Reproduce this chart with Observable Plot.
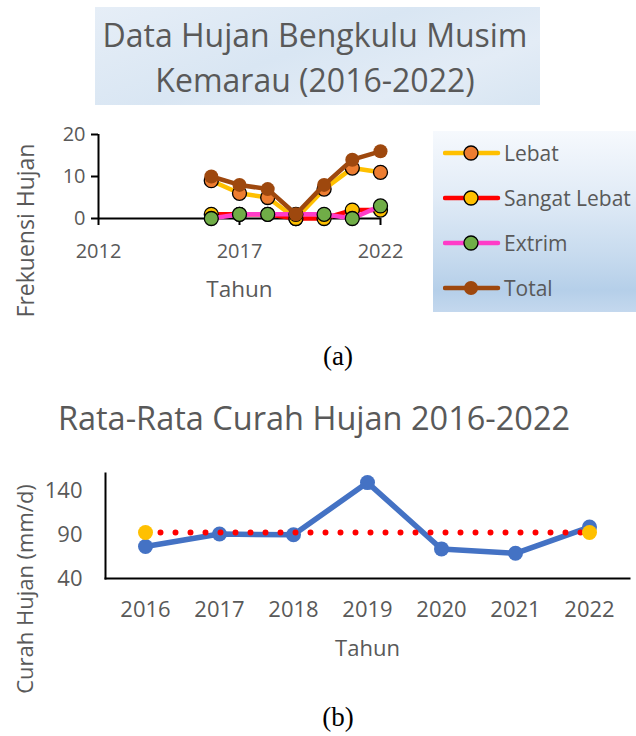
<!DOCTYPE html>
<html><head><meta charset="utf-8">
<script src="https://cdn.jsdelivr.net/npm/d3@7"></script>
<script src="https://cdn.jsdelivr.net/npm/@observablehq/plot@0.6"></script>
<style>
body{margin:0;background:#fff;}
#root{position:relative;width:636px;height:736px;overflow:hidden;font-family:"Open Sans",sans-serif;color:#595959;}
.abs{position:absolute;}
#titleA{left:95px;top:7px;width:445px;height:98px;
  background:linear-gradient(160deg,#e6eef7 0%,#d9e6f3 45%,#e3ecf6 75%,#d7e5f2 100%);}
#titleAText{left:95px;top:12px;width:440px;text-align:center;font-size:32px;line-height:45px;white-space:nowrap;}
#legendA{left:433px;top:131px;width:203px;height:181px;
  background:linear-gradient(180deg,#f6f9fd 0%,#e2ecf7 35%,#c6daee 70%,#b5cfe9 88%,#c4d8ee 100%);}
.item{position:absolute;left:443px;height:30px;display:flex;align-items:center;font-size:21px;white-space:nowrap;}
.item svg{margin-right:3px;}
#chartA{left:0;top:110px;}
#capA,#capB{left:290px;width:96px;text-align:center;font-family:"Liberation Serif",serif;font-size:27px;line-height:34px;color:#000;}
#capA{top:339px;}
#capB{top:700px;}
#titleB{left:0;top:398px;width:628px;text-align:center;font-size:32.5px;line-height:40px;white-space:nowrap;}
#chartB{left:0;top:440px;}
</style></head><body>
<div id="root">
  <div id="titleA" class="abs"></div>
  <div id="titleAText" class="abs">Data Hujan Bengkulu Musim<br>Kemarau (2016-2022)</div>
  <div id="chartA" class="abs"></div>
  <div id="legendA" class="abs"></div>
  <div id="legendItems"></div>
  <div id="capA" class="abs">(a)</div>
  <div id="titleB" class="abs">Rata-Rata Curah Hujan 2016-2022</div>
  <div id="chartB" class="abs"></div>
  <div id="capB" class="abs">(b)</div>
</div>
<script>
// ---------- data ----------
const years = [2016, 2017, 2018, 2019, 2020, 2021, 2022];
const seriesNames = ["Lebat", "Sangat Lebat", "Extrim", "Total"];
const lebat = [9, 6, 5, 0, 7, 12, 11];
const sangatLebat = [1, 1, 1, 0, 0, 2, 2];
const extrim = [0, 1, 1, 1, 1, 0, 3];
const total = [10, 8, 7, 1, 8, 14, 16];
const ticksXA = [2012, 2017, 2022];
const ticksYA = [0, 10, 20];

const curahHujan = [76.5, 90.8, 90, 149.6, 73.8, 68.8, 98.8];
const rataRata = [92.6, 92.6, 92.6, 92.6, 92.6, 92.6, 92.6];
const rataRataMarkerYears = [2016, 2022];
const ticksYB = [40, 90, 140];

// ---------- styles ----------
const lineColor = {"Lebat": "#FFC000", "Sangat Lebat": "#FF0000", "Extrim": "#FF3CC8", "Total": "#9E480E"};
const dotFill = {"Lebat": "#ED7D31", "Sangat Lebat": "#FFC000", "Extrim": "#70AD47", "Total": "#9E480E"};
const dotStroke = {"Lebat": "#000", "Sangat Lebat": "#000", "Extrim": "#000", "Total": "none"};
const textColor = "#595959";

const valuesA = [lebat, sangatLebat, extrim, total];
const rowsA = seriesNames.map((s, i) => years.map((y, j) => ({series: s, year: y, value: valuesA[i][j]})));

// ---------- chart (a) ----------
const chartA = Plot.plot({
  width: 430, height: 230,
  marginLeft: 98, marginRight: 50, marginTop: 24, marginBottom: 122,
  style: {fontFamily: "Open Sans, sans-serif", color: textColor, background: "transparent", overflow: "visible"},
  x: {domain: [2012, 2022]},
  y: {domain: [0, 20]},
  marks: [
    Plot.axisX({ticks: ticksXA, tickFormat: d => String(d), tickSize: 7, tickPadding: 18, fontSize: 20, label: null, stroke: "#000", strokeWidth: 2, fill: textColor}),
    Plot.axisY({ticks: ticksYA, tickSize: 7, tickPadding: 6, fontSize: 20, label: null, stroke: "#000", strokeWidth: 2, fill: textColor}),
    Plot.ruleY([0], {stroke: "#000", strokeWidth: 2}),
    Plot.ruleX([2012], {stroke: "#000", strokeWidth: 2}),
    ...rowsA.flatMap((rows, i) => {
      const s = seriesNames[i];
      return [
        Plot.line(rows, {x: "year", y: "value", stroke: lineColor[s], strokeWidth: 4.5}),
        Plot.dot(rows, {x: "year", y: "value", r: 7, fill: dotFill[s], stroke: dotStroke[s], strokeWidth: 1.3})
      ];
    }),
    Plot.text(["Tahun"], {text: d => d, frameAnchor: "bottom", textAnchor: "middle", lineAnchor: "middle", dy: 71, fontSize: 22.5, fill: textColor}),
    Plot.text(["Frekuensi Hujan"], {text: d => d, frameAnchor: "left", textAnchor: "middle", lineAnchor: "middle", rotate: -90, dx: -71.5, dy: 54, fontSize: 23, fill: textColor})
  ]
});
document.getElementById("chartA").appendChild(chartA);

// legend (a)
const legendTop = [153, 198, 243, 288];
const legendHost = document.getElementById("legendItems");
seriesNames.forEach((s, i) => {
  const div = document.createElement("div");
  div.className = "item";
  div.style.top = (legendTop[i] - 15) + "px";
  div.innerHTML = `<svg width="58" height="30"><line x1="2" x2="55" y1="15" y2="15" stroke="${lineColor[s]}" stroke-width="4.5" stroke-linecap="round"/><circle cx="28" cy="15" r="7" fill="${dotFill[s]}" stroke="${dotStroke[s]}" stroke-width="1.3"/></svg><span>${s}</span>`;
  legendHost.appendChild(div);
});

// ---------- chart (b) ----------
const rowsB = years.map((y, j) => ({year: y, value: curahHujan[j], avg: rataRata[j]}));
const rowsBMarkers = rowsB.filter(d => rataRataMarkerYears.includes(d.year));
const chartB = Plot.plot({
  width: 636, height: 257,
  marginLeft: 105, marginRight: 7, marginTop: 33, marginBottom: 119,
  style: {fontFamily: "Open Sans, sans-serif", color: textColor, background: "transparent", overflow: "visible"},
  x: {type: "point", domain: years, padding: 0.5},
  y: {domain: [40, 160]},
  marks: [
    Plot.axisX({tickSize: 0, tickPadding: 23, fontSize: 22, label: null, fill: textColor, tickFormat: d => String(d)}),
    Plot.axisY({ticks: ticksYB, tickSize: 0, tickPadding: 23, fontSize: 22, label: null, fill: textColor}),
    Plot.frame({anchor: "bottom", stroke: "#000", strokeWidth: 2}),
    Plot.frame({anchor: "left", stroke: "#000", strokeWidth: 2}),
    Plot.line(rowsB, {x: "year", y: "value", stroke: "#4472C4", strokeWidth: 5.5}),
    Plot.dot(rowsB, {x: "year", y: "value", r: 7.5, fill: "#4472C4"}),
    Plot.line(rowsB, {x: "year", y: "avg", stroke: "#FF0000", strokeWidth: 6, strokeDasharray: "0 15", strokeLinecap: "round"}),
    Plot.dot(rowsBMarkers, {x: "year", y: "avg", r: 7.5, fill: "#FFC000"}),
    Plot.text(["Tahun"], {text: d => d, frameAnchor: "bottom", textAnchor: "middle", lineAnchor: "middle", dy: 70, fontSize: 22, fill: textColor}),
    Plot.text(["Curah Hujan (mm/d)"], {text: d => d, frameAnchor: "left", textAnchor: "middle", lineAnchor: "middle", rotate: -90, dx: -80, dy: 63, fontSize: 22, fill: textColor})
  ]
});
document.getElementById("chartB").appendChild(chartB);
</script>
</body></html>
